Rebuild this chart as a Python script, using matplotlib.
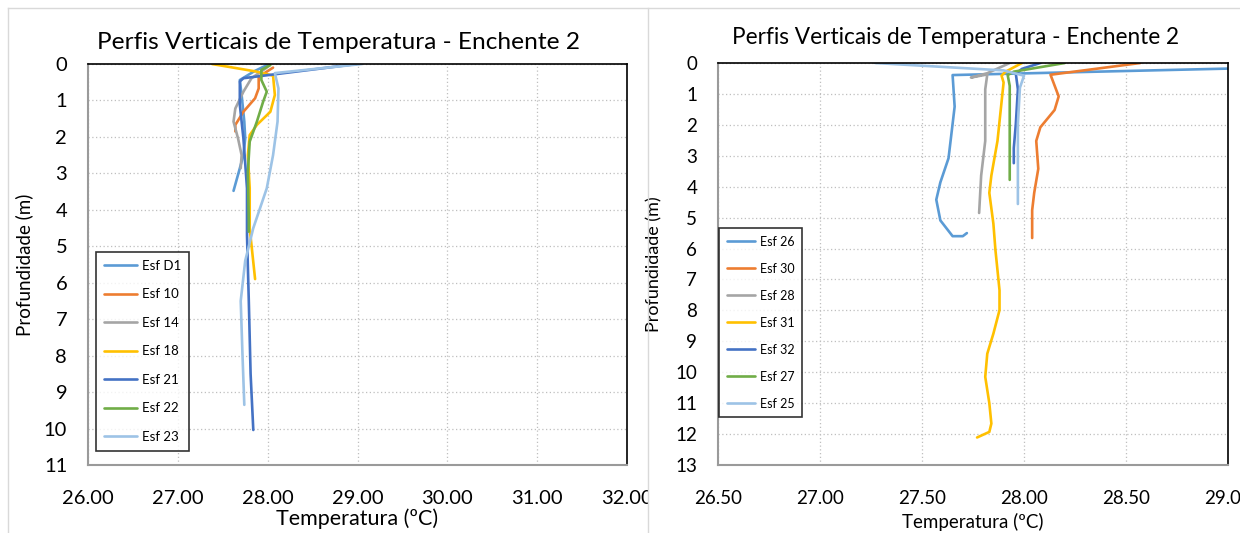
import matplotlib
matplotlib.use("Agg")
import matplotlib.pyplot as plt
from matplotlib.lines import Line2D
from matplotlib.transforms import Bbox, TransformedBbox

plt.rcParams['font.family'] = ['Lato', 'DejaVu Sans']

# ---- left chart data (temperature ºC, depth m) ----
left_names = ['Esf D1', 'Esf 10', 'Esf 14', 'Esf 18', 'Esf 21', 'Esf 22', 'Esf 23']
left_temps = [
    [28.00, 27.85, 27.69, 27.71, 27.74, 27.75, 27.73, 27.69, 27.62],
    [28.06, 27.90, 27.90, 27.86, 27.73, 27.64, 27.64],
    [27.99, 27.82, 27.73, 27.64, 27.62, 27.67, 27.71, 27.70],
    [27.38, 27.88, 28.06, 28.08, 28.03, 27.88, 27.80, 27.78, 27.80, 27.80, 27.83, 27.86],
    [28.99, 27.73, 27.69, 27.69, 27.73, 27.77, 27.77, 27.79, 27.81, 27.84],
    [28.03, 27.93, 27.93, 27.99, 27.95, 27.88, 27.80, 27.78, 27.79, 27.79],
    [29.05, 28.08, 28.12, 28.11, 28.06, 27.99, 27.84, 27.75, 27.70, 27.72, 27.74],
]
left_depths = [
    [0.02, 0.20, 0.44, 0.85, 1.58, 2.04, 2.50, 2.86, 3.48],
    [0.10, 0.35, 0.67, 0.94, 1.31, 1.67, 1.85],
    [0.10, 0.39, 0.76, 1.22, 1.58, 2.04, 2.50, 2.86],
    [0.00, 0.21, 0.32, 0.85, 1.31, 1.67, 1.95, 2.50, 3.41, 4.50, 5.20, 5.90],
    [0.00, 0.39, 0.48, 1.12, 2.04, 3.41, 4.70, 6.50, 8.50, 10.04],
    [0.03, 0.16, 0.44, 0.76, 1.03, 1.58, 2.13, 2.95, 4.33, 4.60],
    [0.00, 0.25, 0.67, 1.58, 2.50, 3.41, 4.50, 5.40, 6.50, 8.00, 9.35],
]
left_xticks = [26, 27, 28, 29, 30, 31, 32]
left_yticks = list(range(0, 12))

# ---- right chart data ----
right_names = ['Esf 26', 'Esf 30', 'Esf 28', 'Esf 31', 'Esf 32', 'Esf 27', 'Esf 25']
right_temps = [
    [29.20, 27.65, 27.66, 27.65, 27.63, 27.59, 27.57, 27.59, 27.65, 27.70, 27.72],
    [28.57, 28.13, 28.17, 28.15, 28.08, 28.06, 28.07, 28.05, 28.04, 28.04],
    [27.93, 27.82, 27.74, 27.82, 27.81, 27.81, 27.79, 27.78],
    [27.99, 27.91, 27.89, 27.90, 27.87, 27.84, 27.83, 27.85, 27.86, 27.88, 27.88,
     27.85, 27.82, 27.81, 27.83, 27.84, 27.83, 27.77],
    [28.08, 27.99, 27.96, 27.97, 27.96, 27.95, 27.95],
    [28.20, 27.95, 27.92, 27.93, 27.93, 27.93],
    [27.27, 27.90, 28.00, 27.98, 27.97, 27.97, 27.97],
]
right_depths = [
    [0.15, 0.39, 1.41, 1.97, 3.08, 3.86, 4.42, 5.09, 5.60, 5.60, 5.50],
    [0.00, 0.38, 1.08, 1.52, 2.08, 2.52, 3.42, 4.20, 4.76, 5.66],
    [0.00, 0.33, 0.47, 0.37, 0.85, 2.52, 3.64, 4.85],
    [0.00, 0.28, 0.41, 0.63, 2.52, 3.64, 4.20, 5.20, 6.05, 7.35, 7.99,
     8.75, 9.40, 10.15, 11.00, 11.66, 11.93, 12.11],
    [0.00, 0.19, 0.35, 0.85, 1.97, 2.75, 3.24],
    [0.00, 0.28, 0.39, 0.74, 1.97, 3.78],
    [0.00, 0.24, 0.41, 0.80, 1.97, 3.08, 4.56],
]
right_xticks = [26.5, 27.0, 27.5, 28.0, 28.5, 29.0]
right_yticks = list(range(0, 14))

colors = ['#5B9BD5', '#ED7D31', '#A5A5A5', '#FFC000', '#4472C4', '#70AD47', '#9DC3E6']

title = 'Perfis Verticais de Temperatura - Enchente 2'

W, H = 1240, 533
fig = plt.figure(figsize=(W / 100, H / 100), dpi=100)


def px_rect(x0, y0, x1, y1):
    return [x0 / W, 1 - y1 / H, (x1 - x0) / W, (y1 - y0) / H]


def style_axes(ax, xticks, yticks, fs):
    ax.set_xticks(xticks)
    ax.set_yticks(yticks)
    ax.set_xlim(xticks[0], xticks[-1])
    ax.set_ylim(yticks[-1], yticks[0])
    ax.grid(True, color='#BFBFBF', linestyle=(0, (1, 2)), linewidth=0.9)
    ax.set_axisbelow(True)
    for s in ['left', 'bottom']:
        ax.spines[s].set_color('#9A9A9A')
        ax.spines[s].set_linewidth(1.5)
    for s in ['top', 'right']:
        ax.spines[s].set_color('black')
        ax.spines[s].set_linewidth(1.2)
    ax.tick_params(length=0, labelsize=fs, colors='black')
    ax.tick_params(axis='x', pad=18)
    ax.tick_params(axis='y', pad=15)


# left chart
ax1 = fig.add_axes(px_rect(88, 64, 627, 465))
for name, t, d, c in zip(left_names, left_temps, left_depths, colors):
    ax1.plot(t, d, color=c, lw=1.9, label=name, solid_capstyle='round')
style_axes(ax1, left_xticks, left_yticks, 14.5)
ax1.set_xticklabels(['%.2f' % v for v in left_xticks])
ax1.set_title(title, fontsize=17.6, x=0.465, y=1.0, pad=11)
ax1.set_xlabel('Temperatura (ºC)', fontsize=15.5, labelpad=1)
ax1.set_ylabel('Profundidade (m)', fontsize=13.5, labelpad=8)
leg1 = ax1.legend(loc='upper left', bbox_to_anchor=(96 / W, 1 - 252 / H),
                  bbox_transform=fig.transFigure, fontsize=9.5, frameon=True,
                  fancybox=False, edgecolor='black', handlelength=2.5,
                  labelspacing=1.25, borderpad=0.6, handletextpad=0.4,
                  borderaxespad=0)
leg1.get_frame().set_linewidth(1.2)

# the left chart area ends at the separator, so its last tick label is cut
clip = TransformedBbox(Bbox([[0, 0], [648 / W, 1]]), fig.transFigure)
for lbl in ax1.get_xticklabels():
    lbl.set_clip_box(clip)
    lbl.set_clip_on(True)

# right chart
ax2 = fig.add_axes(px_rect(718, 63, 1228, 465))
for name, t, d, c in zip(right_names, right_temps, right_depths, colors):
    ax2.plot(t, d, color=c, lw=1.9, label=name, solid_capstyle='round')
style_axes(ax2, right_xticks, right_yticks, 13.5)
ax2.set_xticklabels(['%.2f' % v for v in right_xticks])
ax2.set_title(title, fontsize=16.3, x=0.465, y=1.0, pad=14)
ax2.set_xlabel('Temperatura (ºC)', fontsize=13.5, labelpad=4)
ax2.set_ylabel('Profundidade (m)', fontsize=13, labelpad=9)
leg2 = ax2.legend(loc='upper left', bbox_to_anchor=(719 / W, 1 - 228 / H),
                  bbox_transform=fig.transFigure, fontsize=9, frameon=True,
                  fancybox=False, edgecolor='black', handlelength=2.3,
                  labelspacing=1.2, borderpad=0.6, handletextpad=0.4,
                  borderaxespad=0)
leg2.get_frame().set_linewidth(1.2)

# chart frames
for (x0, y0, x1, y1) in [(8, 8, 8, 533), (8, 8, 1240, 8), (648, 8, 648, 533)]:
    fig.add_artist(Line2D([x0 / W, x1 / W], [1 - y0 / H, 1 - y1 / H],
                          transform=fig.transFigure, color='#D9D9D9', lw=1))

fig.savefig('out.png', dpi=100)
